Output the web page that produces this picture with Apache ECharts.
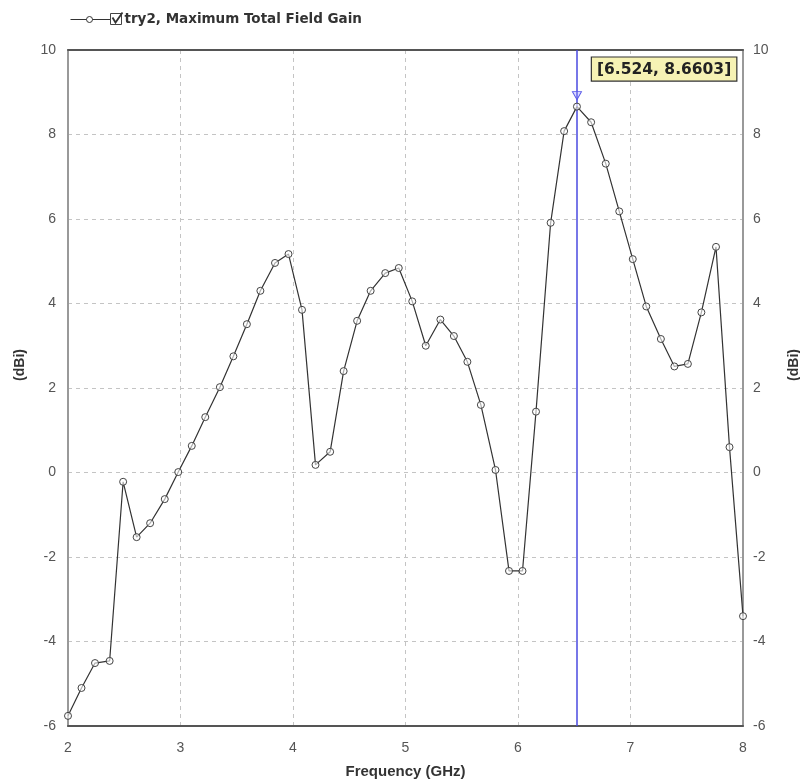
<!DOCTYPE html>
<html>
<head>
<meta charset="utf-8">
<script src="https://cdn.jsdelivr.net/npm/echarts@6/dist/echarts.min.js"></script>
<style>
  html, body { margin: 0; padding: 0; background: #fff; overflow: hidden; }
  #chart { width: 800px; height: 783px; }
</style>
</head>
<body>
<div id="chart"></div>
<script>
// Frequency sweep points (GHz)
const freqGHz = [
  2.00, 2.12, 2.24, 2.37, 2.49, 2.61, 2.73, 2.86, 2.98, 3.10,
  3.22, 3.35, 3.47, 3.59, 3.71, 3.84, 3.96, 4.08, 4.20, 4.33,
  4.45, 4.57, 4.69, 4.82, 4.94, 5.06, 5.18, 5.31, 5.43, 5.55,
  5.67, 5.80, 5.92, 6.04, 6.16, 6.29, 6.41, 6.524, 6.65, 6.78,
  6.90, 7.02, 7.14, 7.27, 7.39, 7.51, 7.63, 7.76, 7.88, 8.00
];
// Maximum total field gain (dBi)
const gainDBi = [
  -5.76, -5.10, -4.51, -4.46, -0.22, -1.53, -1.20, -0.63, 0.01, 0.63,
  1.31, 2.02, 2.75, 3.51, 4.30, 4.96, 5.17, 3.85, 0.18, 0.49,
  2.40, 3.59, 4.30, 4.72, 4.84, 4.05, 3.00, 3.62, 3.23, 2.62,
  1.60, 0.06, -2.33, -2.33, 1.44, 5.91, 8.08, 8.6603, 8.29, 7.31,
  6.18, 5.05, 3.93, 3.16, 2.51, 2.57, 3.79, 5.34, 0.60, -3.40
];
// Marker readout
const markerFreq = 6.524;
const markerGain = 8.6603;
const seriesName = 'try2, Maximum Total Field Gain';

const xTicks = { min: 2, max: 8, interval: 1 };
const yTicks = { min: -6, max: 10, interval: 2 };

const chart = echarts.init(document.getElementById('chart'), null, { renderer: 'canvas' });

const sans = '"Liberation Sans", Arial, sans-serif';
const labelStyle = { color: '#555', fontFamily: sans, fontSize: 14 };
const gridDash = { show: true, lineStyle: { color: '#c4c4c4', type: [4, 4], width: 1 } };
const nameStyle = { color: '#333', fontWeight: 'bold', fontSize: 14, fontFamily: sans };

chart.setOption({
  animation: false,
  backgroundColor: '#fff',
  grid: { left: 68, right: 57, top: 50, bottom: 57, containLabel: false, outerBoundsMode: 'none' },
  graphic: [
    {
      // legend row: line sample with marker, checked box, series name
      type: 'group', left: 68, top: 10,
      children: [
        { type: 'line', shape: { x1: 0, y1: 8, x2: 40, y2: 8 }, style: { stroke: '#333', lineWidth: 1.2 } },
        { type: 'circle', shape: { cx: 19, cy: 8, r: 3 }, style: { fill: '#fff', stroke: '#333', lineWidth: 1 } },
        { type: 'rect', shape: { x: 40, y: 2, width: 11, height: 11 }, style: { fill: '#fff', stroke: '#444', lineWidth: 1 } },
        { type: 'polyline', shape: { points: [[42, 6], [45, 11], [52, 1]] }, style: { stroke: '#333', lineWidth: 1.8, fill: null } },
        { type: 'text', x: 54, y: 1, style: { text: seriesName, fill: '#333', font: 'bold 13.5px "DejaVu Sans", Verdana, sans-serif' } }
      ]
    }
  ],
  xAxis: [
    {
      type: 'value', position: 'bottom',
      min: xTicks.min, max: xTicks.max, interval: xTicks.interval,
      name: 'Frequency (GHz)', nameLocation: 'middle', nameGap: 38,
      nameTextStyle: Object.assign({}, nameStyle, { fontSize: 15 }),
      axisLine: { show: true, onZero: false, lineStyle: { color: '#555', width: 2 } },
      axisTick: { show: false },
      axisLabel: Object.assign({ margin: 15 }, labelStyle),
      splitLine: gridDash
    },
    {
      type: 'value', position: 'top',
      min: xTicks.min, max: xTicks.max, interval: xTicks.interval,
      axisLine: { show: true, onZero: false, lineStyle: { color: '#555', width: 2 } },
      axisTick: { show: false }, axisLabel: { show: false }, splitLine: { show: false }
    }
  ],
  yAxis: [
    {
      type: 'value', position: 'left',
      min: yTicks.min, max: yTicks.max, interval: yTicks.interval,
      name: '(dBi)', nameLocation: 'middle', nameGap: 41, nameRotate: 90,
      nameTextStyle: Object.assign({}, nameStyle, { padding: [0, 0, 0, 46] }),
      axisLine: { show: true, onZero: false, lineStyle: { color: '#999', width: 2 } },
      axisTick: { show: false },
      axisLabel: Object.assign({ margin: 12 }, labelStyle),
      splitLine: gridDash
    },
    {
      type: 'value', position: 'right',
      min: yTicks.min, max: yTicks.max, interval: yTicks.interval,
      name: '(dBi)', nameLocation: 'middle', nameGap: 44, nameRotate: 90,
      nameTextStyle: Object.assign({}, nameStyle, { padding: [0, 0, 0, 46] }),
      axisLine: { show: true, onZero: false, lineStyle: { color: '#999', width: 2 } },
      axisTick: { show: false },
      axisLabel: Object.assign({ margin: 10 }, labelStyle),
      splitLine: { show: false }
    }
  ],
  series: [
    {
      name: seriesName,
      type: 'line',
      data: freqGHz.map((f, i) => [f, gainDBi[i]]),
      symbol: 'circle', symbolSize: 7,
      showAllSymbol: true,
      lineStyle: { color: '#333', width: 1.2 },
      itemStyle: { color: 'rgba(255,255,255,0.6)', borderColor: '#444', borderWidth: 1 },
      z: 5,
      markLine: {
        silent: true, symbol: 'none',
        lineStyle: { color: '#4a4ae0', width: 1.5, type: 'solid' },
        label: { show: false },
        data: [{ xAxis: markerFreq }]
      },
      markPoint: {
        silent: true,
        data: [
          {
            coord: [markerFreq, markerGain],
            symbol: 'triangle', symbolRotate: 180, symbolSize: [9, 8], symbolOffset: [0, -11],
            itemStyle: { color: 'rgba(150,150,255,0.35)', borderColor: '#5a5ae8', borderWidth: 1 },
            label: { show: false }
          },
          {
            coord: [markerFreq, markerGain],
            symbol: 'circle', symbolSize: 0,
            label: {
              show: true,
              position: [15, -49],
              formatter: '[' + markerFreq + ', ' + markerGain + ']',
              color: '#222', fontWeight: 'bold', fontSize: 15.5,
              fontFamily: '"DejaVu Sans", Verdana, sans-serif',
              backgroundColor: '#f6f2b4', borderColor: '#333', borderWidth: 1.2,
              padding: [4, 5, 3, 5]
            }
          }
        ]
      }
    }
  ]
});
</script>
</body>
</html>
